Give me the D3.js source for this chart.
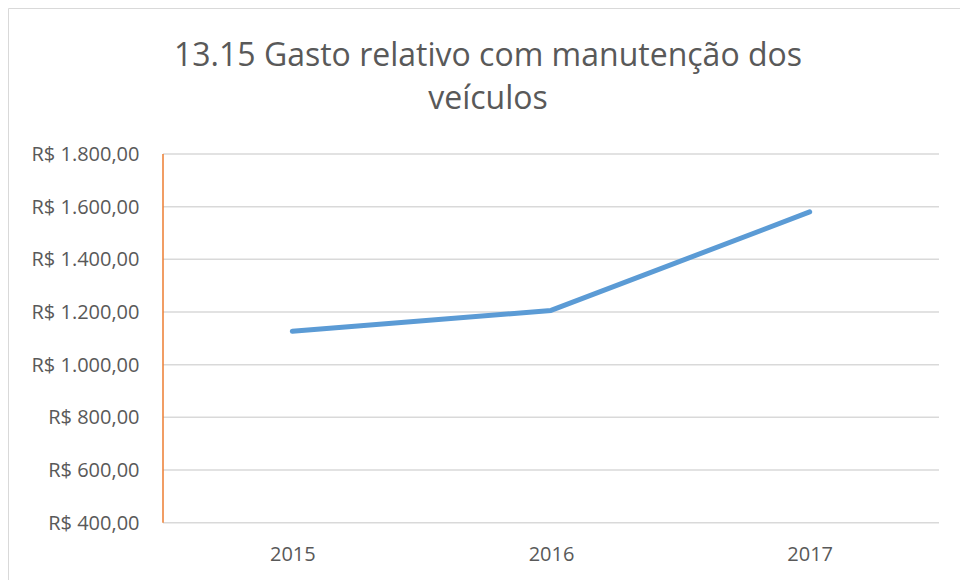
<!DOCTYPE html>
<html>
<head>
<meta charset="utf-8">
<script src="https://cdn.jsdelivr.net/npm/d3@7"></script>
<style>
  html, body { margin: 0; padding: 0; background: #fff; }
  svg { display: block; }
</style>
</head>
<body>
<svg id="chart" width="960" height="580"></svg>
<script>
const titleLines = ["13.15 Gasto relativo com manutenção dos", "veículos"];
const years = ["2015", "2016", "2017"];
const values = [1127, 1206, 1580];
const yTicks = [400, 600, 800, 1000, 1200, 1400, 1600, 1800];

(function () {
const svg = d3.select("#chart");
const font = "'Open Sans', 'Noto Sans', sans-serif";
const textColor = "#595959";

// chart frame
svg.append("line").attr("x1", 8.5).attr("x2", 960).attr("y1", 8.5).attr("y2", 8.5)
  .attr("stroke", "#d9d9d9").attr("stroke-width", 1);
svg.append("line").attr("x1", 8.5).attr("x2", 8.5).attr("y1", 8.5).attr("y2", 580)
  .attr("stroke", "#d9d9d9").attr("stroke-width", 1);

const pLeft = 163, pRight = 939, pTop = 154, pBottom = 522.7;

const x = d3.scalePoint().domain(years).range([pLeft, pRight]).padding(0.5);
const y = d3.scaleLinear().domain([400, 1800]).range([pBottom, pTop]);

// gridlines
svg.append("g").selectAll("line").data(yTicks).join("line")
  .attr("x1", pLeft).attr("x2", pRight)
  .attr("y1", d => y(d)).attr("y2", d => y(d))
  .attr("stroke", "#d9d9d9").attr("stroke-width", 1.5);

// y axis labels
const fmt = d => "R$ " + d3.format(",.2f")(d).replace(/,/g, "#").replace(/\./g, ",").replace(/#/g, ".");
const yAxis = d3.axisLeft(y).tickValues(yTicks).tickFormat(fmt).tickSize(0).tickPadding(0);
const yg = svg.append("g").attr("transform", `translate(139.5,0)`).call(yAxis);
yg.select(".domain").remove();
yg.selectAll("text").attr("font-family", font).attr("font-size", 20).attr("fill", textColor);

// orange y axis line
svg.append("line").attr("x1", pLeft).attr("x2", pLeft).attr("y1", pTop).attr("y2", pBottom)
  .attr("stroke", "#ed7d31").attr("stroke-width", 1.5);

// x axis labels
const xAxis = d3.axisBottom(x).tickSize(0).tickPadding(0);
const xg = svg.append("g").attr("transform", `translate(0,${pBottom + 24.5})`).call(xAxis);
xg.select(".domain").remove();
xg.selectAll("text").attr("font-family", font).attr("font-size", 20).attr("fill", textColor);

// line
const line = d3.line().x((d, i) => x(years[i])).y(d => y(d));
svg.append("path").datum(values).attr("d", line)
  .attr("fill", "none").attr("stroke", "#5b9bd5").attr("stroke-width", 5)
  .attr("stroke-linecap", "round").attr("stroke-linejoin", "round");

// title
svg.append("g").selectAll("text").data(titleLines).join("text")
  .attr("x", 488).attr("y", (d, i) => 66 + i * 43)
  .attr("text-anchor", "middle")
  .attr("font-family", font).attr("font-size", 32).attr("fill", textColor)
  .text(d => d);
})();
</script>
</body>
</html>
